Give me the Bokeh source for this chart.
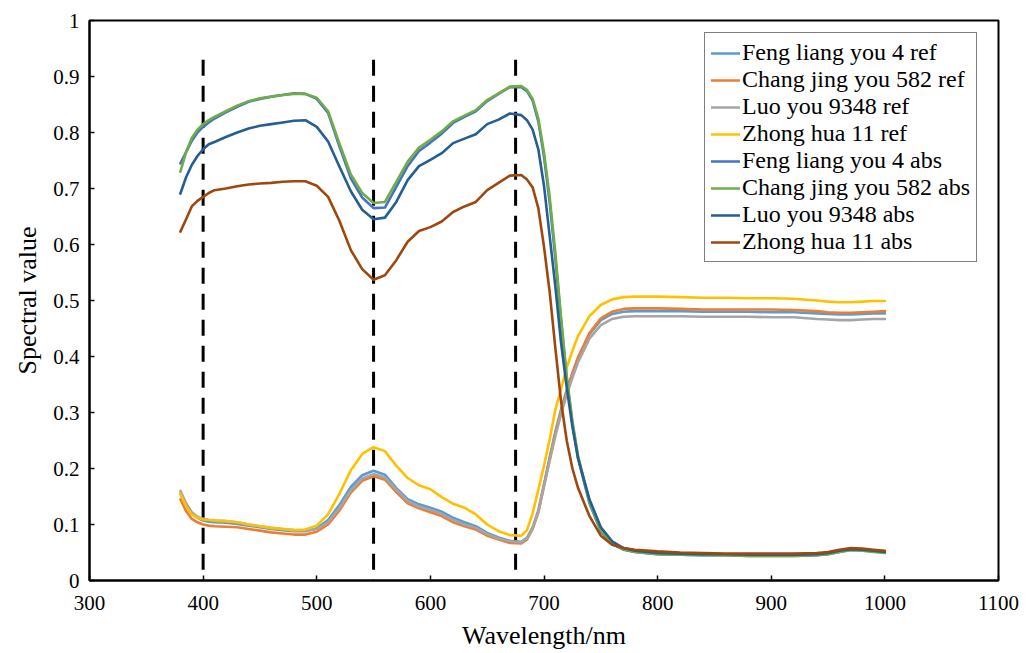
from bokeh.plotting import figure
from bokeh.models import Legend, LegendItem, FixedTicker, CustomJSTickFormatter, Range1d
from bokeh.embed import file_html
from bokeh.resources import INLINE

wavelength = [380, 385, 390, 395, 400, 405, 410, 420, 430, 440, 450, 460, 470, 480, 490, 500,
              510, 520, 530, 540, 550, 560, 570, 580, 590, 600, 610, 620, 630, 640, 650, 660, 670, 680,
              685, 690, 695, 700, 705, 710, 715, 720, 725, 730, 740, 750, 760, 770, 780,
              800, 820, 840, 860, 880, 900, 920, 940, 950, 960, 970, 980, 990, 1000]

feng_ref = [0.155, 0.135, 0.120, 0.112, 0.107, 0.105, 0.104, 0.103, 0.101, 0.098, 0.095, 0.092, 0.090, 0.088, 0.088, 0.093,
            0.108, 0.135, 0.167, 0.188, 0.196, 0.189, 0.165, 0.145, 0.136, 0.130, 0.123, 0.112, 0.104, 0.097, 0.085, 0.077, 0.071, 0.069,
            0.076, 0.095, 0.125, 0.172, 0.220, 0.266, 0.305, 0.340, 0.370, 0.398, 0.440, 0.465, 0.476, 0.480, 0.481,
            0.481, 0.481, 0.480, 0.480, 0.480, 0.479, 0.479, 0.477, 0.476, 0.475, 0.475, 0.476, 0.477, 0.477]

chang_ref = [0.145, 0.124, 0.110, 0.104, 0.100, 0.098, 0.097, 0.096, 0.095, 0.092, 0.089, 0.086, 0.084, 0.082, 0.082, 0.087,
             0.100, 0.125, 0.157, 0.178, 0.186, 0.180, 0.158, 0.138, 0.129, 0.122, 0.115, 0.104, 0.097, 0.091, 0.080, 0.073, 0.067, 0.066,
             0.073, 0.092, 0.122, 0.170, 0.217, 0.263, 0.302, 0.338, 0.370, 0.398, 0.442, 0.468, 0.480, 0.485, 0.486,
             0.486, 0.485, 0.484, 0.484, 0.484, 0.484, 0.483, 0.481, 0.479, 0.478, 0.478, 0.479, 0.480, 0.481]

luo_ref = [0.160, 0.138, 0.122, 0.114, 0.110, 0.108, 0.107, 0.106, 0.104, 0.100, 0.097, 0.094, 0.092, 0.090, 0.089, 0.092,
           0.104, 0.130, 0.161, 0.182, 0.190, 0.184, 0.162, 0.142, 0.132, 0.126, 0.119, 0.108, 0.100, 0.094, 0.083, 0.075, 0.070, 0.068,
           0.075, 0.093, 0.122, 0.168, 0.214, 0.258, 0.297, 0.332, 0.362, 0.390, 0.432, 0.456, 0.467, 0.471, 0.472,
           0.472, 0.472, 0.471, 0.471, 0.471, 0.470, 0.470, 0.467, 0.466, 0.465, 0.465, 0.466, 0.467, 0.467]

zhong_ref = [0.155, 0.132, 0.118, 0.112, 0.109, 0.108, 0.107, 0.106, 0.104, 0.100, 0.097, 0.094, 0.092, 0.090, 0.091, 0.098,
             0.118, 0.155, 0.197, 0.226, 0.238, 0.231, 0.205, 0.183, 0.170, 0.163, 0.149, 0.137, 0.130, 0.118, 0.100, 0.088, 0.081, 0.080,
             0.090, 0.120, 0.162, 0.205, 0.252, 0.305, 0.342, 0.380, 0.410, 0.437, 0.472, 0.492, 0.502, 0.506, 0.507,
             0.507, 0.506, 0.505, 0.505, 0.504, 0.504, 0.503, 0.500, 0.498, 0.497, 0.497, 0.498, 0.499, 0.499]

feng_abs = [0.745, 0.765, 0.785, 0.800, 0.810, 0.818, 0.825, 0.836, 0.846, 0.855, 0.860, 0.864, 0.867, 0.870, 0.869, 0.860,
            0.835, 0.775, 0.718, 0.684, 0.665, 0.666, 0.703, 0.740, 0.767, 0.782, 0.798, 0.817, 0.828, 0.838, 0.856, 0.869, 0.881, 0.881,
            0.874, 0.857, 0.820, 0.757, 0.675, 0.575, 0.465, 0.360, 0.280, 0.218, 0.138, 0.088, 0.065, 0.055, 0.051,
            0.047, 0.046, 0.045, 0.045, 0.044, 0.044, 0.044, 0.045, 0.047, 0.051, 0.055, 0.054, 0.052, 0.050]

chang_abs = [0.730, 0.765, 0.790, 0.805, 0.815, 0.822, 0.828, 0.838, 0.848, 0.856, 0.861, 0.864, 0.867, 0.869, 0.869, 0.862,
             0.838, 0.780, 0.725, 0.692, 0.674, 0.676, 0.712, 0.748, 0.773, 0.787, 0.802, 0.820, 0.830, 0.840, 0.858, 0.870, 0.882, 0.883,
             0.876, 0.860, 0.825, 0.765, 0.685, 0.585, 0.470, 0.365, 0.285, 0.222, 0.140, 0.090, 0.066, 0.056, 0.051,
             0.047, 0.046, 0.045, 0.045, 0.044, 0.044, 0.044, 0.045, 0.047, 0.051, 0.054, 0.053, 0.051, 0.049]

luo_abs = [0.691, 0.720, 0.742, 0.758, 0.770, 0.779, 0.783, 0.792, 0.800, 0.807, 0.812, 0.815, 0.818, 0.821, 0.822, 0.810,
           0.784, 0.739, 0.695, 0.662, 0.645, 0.648, 0.676, 0.715, 0.740, 0.751, 0.763, 0.781, 0.789, 0.797, 0.815, 0.823, 0.834, 0.831,
           0.822, 0.805, 0.770, 0.705, 0.615, 0.525, 0.425, 0.345, 0.275, 0.218, 0.145, 0.095, 0.070, 0.058, 0.053,
           0.049, 0.048, 0.047, 0.047, 0.046, 0.046, 0.046, 0.047, 0.049, 0.053, 0.056, 0.055, 0.053, 0.051]

zhong_abs = [0.623, 0.645, 0.668, 0.678, 0.685, 0.692, 0.697, 0.700, 0.704, 0.707, 0.709, 0.710, 0.712, 0.713, 0.713, 0.705,
             0.685, 0.642, 0.590, 0.556, 0.537, 0.545, 0.572, 0.605, 0.624, 0.631, 0.641, 0.658, 0.668, 0.676, 0.697, 0.710, 0.723, 0.724,
             0.716, 0.702, 0.665, 0.596, 0.515, 0.415, 0.320, 0.250, 0.200, 0.165, 0.115, 0.080, 0.064, 0.058, 0.055,
             0.052, 0.050, 0.049, 0.048, 0.048, 0.048, 0.048, 0.049, 0.051, 0.055, 0.058, 0.057, 0.055, 0.053]

series_names = ["Feng liang you 4 ref", "Chang jing you 582 ref", "Luo you 9348 ref", "Zhong hua 11 ref",
                "Feng liang you 4 abs", "Chang jing you 582 abs", "Luo you 9348 abs", "Zhong hua 11 abs"]
series_values = [feng_ref, chang_ref, luo_ref, zhong_ref, feng_abs, chang_abs, luo_abs, zhong_abs]
series_colors = ["#5B9BD5", "#ED7D31", "#A5A5A5", "#FFC000", "#4472C4", "#70AD47", "#255E91", "#9E480E"]

marker_wavelengths = [400, 550, 675]
marker_top = 0.93

x_ticks = [300, 400, 500, 600, 700, 800, 900, 1000, 1100]
y_ticks = [0, 0.1, 0.2, 0.3, 0.4, 0.5, 0.6, 0.7, 0.8, 0.9, 1.0]

FONT = "Liberation Serif"

p = figure(width=1027, height=652, output_backend="svg", toolbar_location=None,
           x_range=Range1d(300, 1100), y_range=Range1d(0, 1),
           min_border_left=89, min_border_top=20, min_border_right=29, min_border_bottom=71)
p.xgrid.visible = False
p.ygrid.visible = False
p.outline_line_color = "black"
p.outline_line_width = 2
p.outline_line_alpha = 1

for ax in (p.xaxis[0], p.yaxis[0]):
    ax.axis_line_color = "black"
    ax.axis_line_width = 2
    ax.major_tick_in = 5
    ax.major_tick_out = 0
    ax.major_tick_line_width = 1.5
    ax.minor_tick_line_color = None
    ax.major_label_text_font = FONT
    ax.major_label_text_font_size = "21px"
    ax.major_label_text_color = "black"
    ax.axis_label_text_font = FONT
    ax.axis_label_text_font_size = "26px"
    ax.axis_label_text_font_style = "normal"
    ax.axis_label_text_color = "black"

p.xaxis.ticker = FixedTicker(ticks=x_ticks)
p.yaxis.ticker = FixedTicker(ticks=y_ticks)
p.yaxis.formatter = CustomJSTickFormatter(code="return Number(tick.toFixed(1)).toString();")
p.xaxis.axis_label = "Wavelength/nm"
p.yaxis.axis_label = "Spectral value"
p.xaxis.major_label_standoff = 15
p.yaxis.major_label_standoff = 10
p.xaxis.axis_label_standoff = 8
p.yaxis.axis_label_standoff = 8

# dashed marker lines (drawn top-down so the pattern starts with a full dash at the top)
p.segment(x0=marker_wavelengths, y0=[marker_top] * len(marker_wavelengths),
          x1=marker_wavelengths, y1=[0] * len(marker_wavelengths),
          line_color="black", line_width=3, line_dash="16 10")

items = []
for name, vals, col in zip(series_names, series_values, series_colors):
    r = p.line(wavelength, vals, line_color=col, line_width=2.6, line_join="round", line_cap="round")
    items.append(LegendItem(label=name, renderers=[r]))

legend = Legend(items=items, location=(615, 318))
legend.margin = 0
legend.padding = 6
legend.spacing = 0
legend.glyph_width = 29
legend.glyph_height = 26
legend.label_height = 26
legend.label_standoff = 2
legend.label_text_font = FONT
legend.label_text_font_size = "24px"
legend.label_text_color = "black"
legend.border_line_color = "black"
legend.border_line_width = 1.5
legend.background_fill_color = "white"
legend.background_fill_alpha = 1
p.add_layout(legend, "center")

open("out.html", "w").write(file_html(p, INLINE))
